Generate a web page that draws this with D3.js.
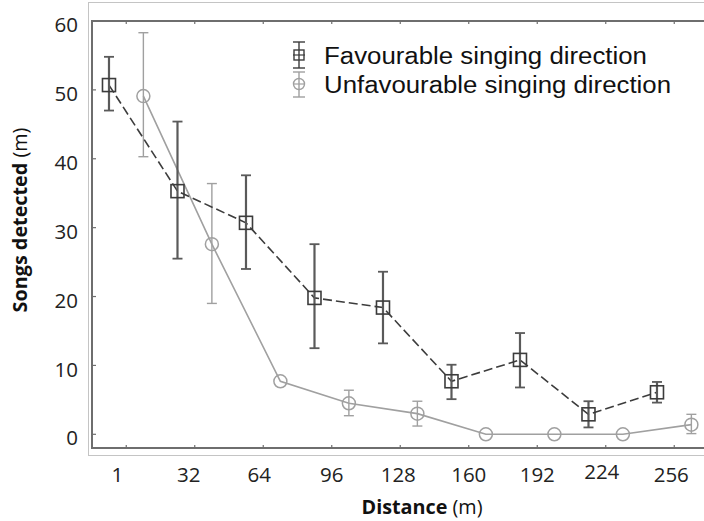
<!DOCTYPE html>
<html>
<head>
<meta charset="utf-8">
<script src="https://cdn.jsdelivr.net/npm/d3@7"></script>
<style>
  html, body { margin: 0; padding: 0; background: #fff; }
  svg { display: block; }
</style>
</head>
<body>
<svg id="chart" width="704" height="521"></svg>
<script>
// ---- data ----
const distanceLabels = ["1", "32", "64", "96", "128", "160", "192", "224", "256"];
const favMean  = [50.7, 35.3, 30.7, 19.8, 18.4, 7.7, 10.8, 2.9, 6.1];
const favLow   = [47.0, 25.5, 24.0, 12.5, 13.2, 5.1, 6.8, 1.0, 4.6];
const favHigh  = [54.8, 45.4, 37.6, 27.6, 23.6, 10.1, 14.7, 4.8, 7.6];
const unfMean  = [49.1, 27.6, 7.7, 4.5, 3.0, 0.0, 0.0, 0.0, 1.4];
const unfLow   = [40.3, 19.0, 7.7, 2.7, 1.2, 0.0, 0.0, 0.0, 0.1];
const unfHigh  = [58.3, 36.4, 7.7, 6.4, 4.8, 0.0, 0.0, 0.0, 2.9];
const yTicks   = [0, 10, 20, 30, 40, 50, 60];
const seriesNames = ["Favourable singing direction", "Unfavourable singing direction"];

// ---- layout ----
const svg = d3.select("#chart");
const x = d3.scaleLinear().domain([-0.5, 8.5]).range([92, 708.5]);
const y = d3.scaleLinear().domain([0, 60]).range([434.3, 21]);
const yBottom = y(-2);
const favColor = "#3c3c3c", favBar = "#5a5a5a";
const unfColor = "#a0a0a0";
const axisColor = "#6e6e6e";
const tickFont = "'Open Sans', 'Noto Sans', sans-serif";

// outer frame
svg.append("rect").attr("x", 88.5).attr("y", 2.5).attr("width", 640).attr("height", 453)
  .attr("fill", "none").attr("stroke", "#c4c4c4").attr("stroke-width", 1);

// axes lines
svg.append("line").attr("x1", x(-0.5)).attr("x2", 704).attr("y1", y(60)).attr("y2", y(60))
  .attr("stroke", axisColor).attr("stroke-width", 2);
svg.append("line").attr("x1", x(-0.5)).attr("x2", 704).attr("y1", yBottom).attr("y2", yBottom)
  .attr("stroke", axisColor).attr("stroke-width", 2);
svg.append("line").attr("x1", x(-0.5)).attr("x2", x(-0.5)).attr("y1", y(60) - 1).attr("y2", yBottom + 1)
  .attr("stroke", axisColor).attr("stroke-width", 2);

// y ticks (inward) + labels
const gy = svg.append("g");
yTicks.forEach(v => {
  gy.append("line").attr("x1", x(-0.5)).attr("x2", x(-0.5) + 4).attr("y1", y(v)).attr("y2", y(v))
    .attr("stroke", axisColor).attr("stroke-width", 1.2);
  gy.append("text").attr("x", 78).attr("y", y(v) + 4).attr("dy", "0.35em")
    .attr("text-anchor", "end").attr("font-family", tickFont).attr("font-size", 20.5)
    .attr("fill", "#222").text(v);
});

// x ticks top and bottom (inward) + labels
const labelNudge = [-9, -6, -4, 0, -2, 0, 0, -4, -3];
const labelLift  = [0, 0, 0, 0, 0, 0, 0, -3, 0];
distanceLabels.forEach((lab, i) => {
  svg.append("line").attr("x1", x(i)).attr("x2", x(i)).attr("y1", yBottom).attr("y2", yBottom - 3)
    .attr("stroke", axisColor).attr("stroke-width", 1.2);
  svg.append("line").attr("x1", x(i)).attr("x2", x(i)).attr("y1", y(60)).attr("y2", y(60) + 3)
    .attr("stroke", axisColor).attr("stroke-width", 1.2);
  svg.append("text").attr("x", x(i) + labelNudge[i]).attr("y", 482 + labelLift[i])
    .attr("text-anchor", "middle").attr("font-family", tickFont).attr("font-size", 20.5)
    .attr("fill", "#222").text(lab);
});

// axis titles
const xt = svg.append("text").attr("x", 422).attr("y", 514).attr("text-anchor", "middle")
  .attr("font-family", tickFont).attr("font-size", 19.8).attr("fill", "#111");
xt.append("tspan").attr("font-weight", "bold").text("Distance");
xt.append("tspan").text(" (m)");

const yt = svg.append("text").attr("transform", "translate(27,220) rotate(-90)")
  .attr("text-anchor", "middle").attr("font-family", tickFont).attr("font-size", 19.8).attr("fill", "#111");
yt.append("tspan").attr("font-weight", "bold").text("Songs detected");
yt.append("tspan").text(" (m)");

// series
const favOff = -0.252, unfOff = 0.25;
const idx = d3.range(distanceLabels.length);

// unfavourable (light, solid)
const gU = svg.append("g");
gU.append("path").datum(idx)
  .attr("d", d3.line().x(i => x(i + unfOff)).y(i => y(unfMean[i])))
  .attr("fill", "none").attr("stroke", unfColor).attr("stroke-width", 1.6);
idx.forEach(i => {
  const cx = x(i + unfOff);
  if (unfHigh[i] - unfLow[i] > 0.5) {
    gU.append("line").attr("x1", cx).attr("x2", cx).attr("y1", y(unfHigh[i])).attr("y2", y(unfLow[i]))
      .attr("stroke", unfColor).attr("stroke-width", 1.4);
    [unfHigh[i], unfLow[i]].forEach(v => gU.append("line").attr("x1", cx - 5).attr("x2", cx + 5)
      .attr("y1", y(v)).attr("y2", y(v)).attr("stroke", unfColor).attr("stroke-width", 1.4));
  }
  gU.append("circle").attr("cx", cx).attr("cy", y(unfMean[i])).attr("r", 6.5)
    .attr("fill", "none").attr("stroke", unfColor).attr("stroke-width", 1.5);
});

// favourable (dark, dashed)
const gF = svg.append("g");
gF.append("path").datum(idx)
  .attr("d", d3.line().x(i => x(i + favOff)).y(i => y(favMean[i])))
  .attr("fill", "none").attr("stroke", favColor).attr("stroke-width", 1.6)
  .attr("stroke-dasharray", "9,4");
idx.forEach(i => {
  const cx = x(i + favOff);
  gF.append("line").attr("x1", cx).attr("x2", cx).attr("y1", y(favHigh[i])).attr("y2", y(favLow[i]))
    .attr("stroke", favBar).attr("stroke-width", 2.2);
  [favHigh[i], favLow[i]].forEach(v => gF.append("line").attr("x1", cx - 5).attr("x2", cx + 5)
    .attr("y1", y(v)).attr("y2", y(v)).attr("stroke", favBar).attr("stroke-width", 1.8));
  gF.append("rect").attr("x", cx - 6.5).attr("y", y(favMean[i]) - 6.5).attr("width", 13).attr("height", 13)
    .attr("fill", "none").attr("stroke", favColor).attr("stroke-width", 1.6);
});

// legend
const lg = svg.append("g");
const legendRows = [
  { name: seriesNames[0], color: favColor, shape: "square", cy: 55, top: 42, bot: 68, len: 323 },
  { name: seriesNames[1], color: unfColor, shape: "circle", cy: 84, top: 72, bot: 97, len: 347 }
];
legendRows.forEach(r => {
  const cx = 299;
  lg.append("line").attr("x1", cx).attr("x2", cx).attr("y1", r.top).attr("y2", r.bot)
    .attr("stroke", r.color).attr("stroke-width", 1.4);
  [r.top, r.bot].forEach(v => lg.append("line").attr("x1", cx - 6).attr("x2", cx + 6)
    .attr("y1", v).attr("y2", v).attr("stroke", r.color).attr("stroke-width", 1.4));
  lg.append("line").attr("x1", cx - 6).attr("x2", cx + 6).attr("y1", r.cy).attr("y2", r.cy)
    .attr("stroke", r.color).attr("stroke-width", 1.2);
  if (r.shape === "square") {
    lg.append("rect").attr("x", cx - 5).attr("y", r.cy - 5).attr("width", 10).attr("height", 10)
      .attr("fill", "none").attr("stroke", r.color).attr("stroke-width", 1.4);
  } else {
    lg.append("circle").attr("cx", cx).attr("cy", r.cy).attr("r", 5.5)
      .attr("fill", "none").attr("stroke", r.color).attr("stroke-width", 1.4);
  }
  lg.append("text").attr("x", 324).attr("y", r.cy + 8.5)
    .attr("font-family", "'Liberation Sans', Arial, sans-serif").attr("font-size", 23.5)
    .attr("textLength", r.len).attr("lengthAdjust", "spacingAndGlyphs")
    .attr("fill", "#111").text(r.name);
});
</script>
</body>
</html>
